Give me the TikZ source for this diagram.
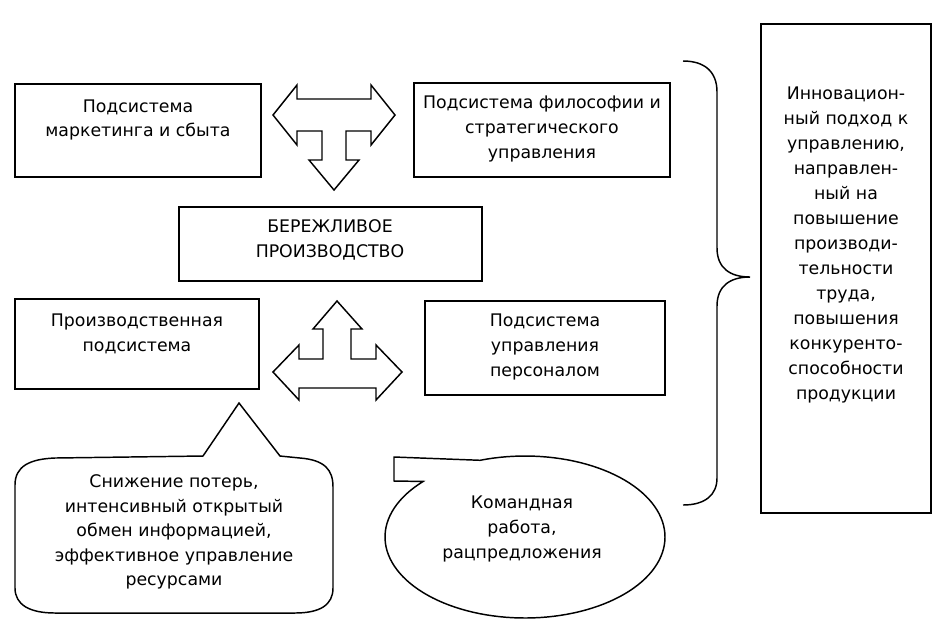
\documentclass[tikz,border=0pt]{standalone}
\usepackage{fontspec}
\setmainfont{DejaVu Sans}
\usetikzlibrary{fit}
\begin{document}
\begin{tikzpicture}[x=0.75pt,y=-0.75pt,
  box/.style={draw, line width=1.1pt, inner sep=0pt},
  txt/.style={align=center, font=\fontsize{13}{18.4}\selectfont, inner sep=0pt},
  txtf/.style={align=center, font=\fontsize{13}{18.75}\selectfont, inner sep=0pt},
  blk/.style={draw, line width=1.1pt, line join=miter, fill=white},
  brc/.style={draw, line width=1.1pt}]
\useasboundingbox[fill=white] (0,0) rectangle (937,626);

% boxes
\node[box, fit={(15,84) (261,177)}] (A) {};
\node[txt] (At) at (138,120) {Подсистема\\маркетинга и сбыта};
\node[box, fit={(414,83) (670,177)}] (B) {};
\node[txt] (Bt) at (542,129) {Подсистема философии и\\стратегического\\управления};
\node[box, fit={(179,207) (482,281)}] (C) {};
\node[txt] (Ct) at (330,240) {БЕРЕЖЛИВОЕ\\ПРОИЗВОДСТВО};
\node[box, fit={(15,299) (259,389)}] (D) {};
\node[txt] (Dt) at (137,334) {Производственная\\подсистема};
\node[box, fit={(425,301) (665,395)}] (E) {};
\node[txt] (Et) at (545,347) {Подсистема\\управления\\персоналом};
\node[box, fit={(761,24) (931,513)}] (F) {};
\node[txtf] (Ft) at (846,245) {Инновацион-\\ный подход к\\управлению,\\направлен-\\ный на\\повышение\\производи-\\тельности\\труда,\\повышения\\конкуренто-\\способности\\продукции};

% top block arrow
\draw[blk] (273,115) -- (297,85) -- (297,99) -- (371,99) -- (371,85) -- (395,115)
  -- (371,145) -- (371,131) -- (346,131) -- (346,160) -- (359,160) -- (334,190)
  -- (309,160) -- (322,160) -- (322,131) -- (297,131) -- (297,145) -- cycle;

% bottom block arrow
\draw[blk] (337,301) -- (362,329) -- (351,329) -- (351,359) -- (376,359) -- (376,345)
  -- (402,372) -- (376,400) -- (376,388) -- (299,388) -- (299,400) -- (273,372)
  -- (299,345) -- (299,359) -- (323,359) -- (323,329) -- (313,329) -- cycle;

% brace
\draw[brc] (683,61) .. controls (705,61) and (717,72) .. (717,92) -- (717,248)
  .. controls (717,268) and (730,277) .. (750,277)
  .. controls (730,277) and (717,286) .. (717,306) -- (717,478)
  .. controls (717,495) and (705,505) .. (683,505);

% callout 1
\draw[blk] (15,485) .. controls (15,466) and (30,459) .. (55,458) -- (203,456)
  -- (239,403) -- (280,456) -- (300,458) .. controls (325,460) and (333,470) .. (333,487)
  -- (333,588) .. controls (333,605) and (320,613) .. (295,613) -- (55,613)
  .. controls (30,613) and (15,605) .. (15,588) -- cycle;
\node[txt] (G) at (174,532) {Снижение потерь,\\интенсивный открытый\\обмен информацией,\\эффективное управление\\ресурсами};

% callout 2
\draw[blk] plot[domain=223.3:-108.7, samples=120] ({525+140*cos(\x)},{537+81*sin(\x)})
  -- (394,457) -- (394,481) -- cycle;
\node[txt] (H) at (522,529) {Командная\\работа,\\рацпредложения};
\end{tikzpicture}
\end{document}
